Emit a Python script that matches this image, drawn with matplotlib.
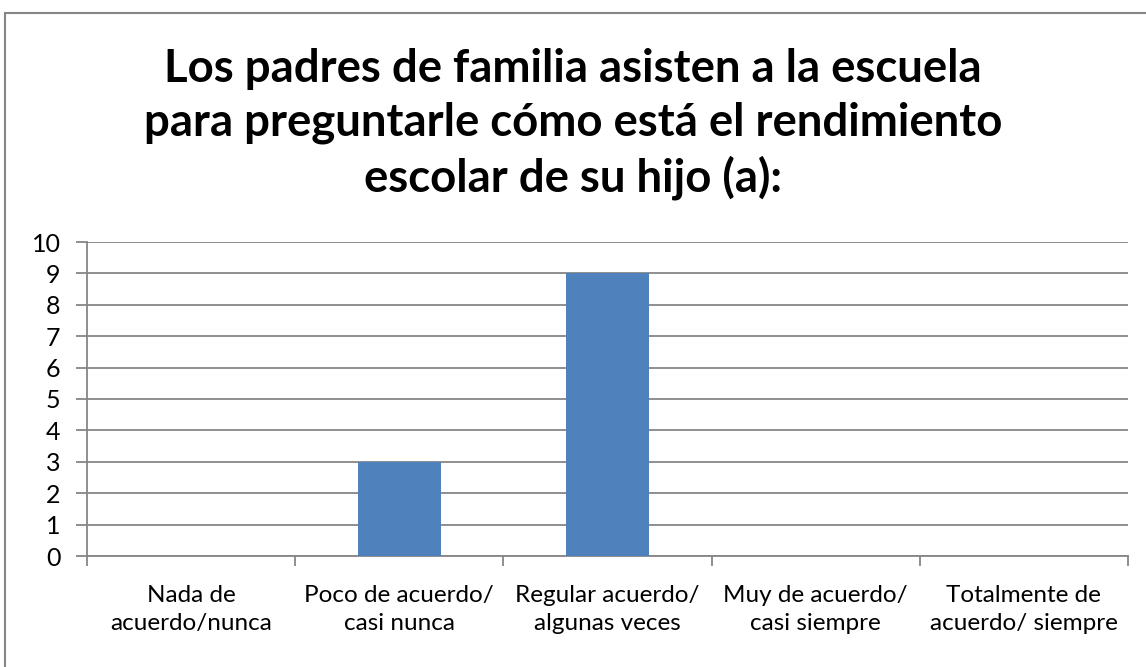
import matplotlib.pyplot as plt
from matplotlib.patches import Rectangle

plt.rcParams['font.family'] = ['Lato', 'DejaVu Sans']

# Datos
categorias = ['Nada de\nacuerdo/nunca', 'Poco de acuerdo/\ncasi nunca',
              'Regular acuerdo/\nalgunas veces', 'Muy de acuerdo/\ncasi siempre',
              'Totalmente de\nacuerdo/ siempre']
valores = [0, 3, 9, 0, 0]
titulo = ('Los padres de familia asisten a la escuela\n'
          'para preguntarle cómo está el rendimiento\n'
          'escolar de su hijo (a):')

gris = '#868686'

fig = plt.figure(figsize=(11.46, 6.67), dpi=100)
ax = fig.add_axes([87 / 1146, 1 - 556 / 667, (1128 - 87) / 1146, (556 - 242) / 667])

x = range(len(categorias))
ax.bar(x, valores, width=0.4, color='#4F81BD', zorder=3)

ax.set_xlim(-0.5, len(categorias) - 0.5)
ax.set_ylim(0, 10)
ax.set_yticks(range(0, 11))
ax.yaxis.grid(True, color=gris, linewidth=1.3, zorder=0)

# ticks del eje x en los limites de categoria, etiquetas centradas
ax.set_xticks([i - 0.5 for i in range(len(categorias) + 1)])
ax.set_xticklabels([])
ax.set_xticks(list(x), minor=True)
ax.set_xticklabels(categorias, minor=True, fontsize=17.5, linespacing=1.4)
ax.tick_params(axis='x', which='minor', length=0, pad=21)
ax.tick_params(axis='x', which='major', length=7, color=gris, width=1.3)
ax.tick_params(axis='y', length=8, color=gris, width=1.3, labelsize=18, pad=11)

for lado in ['top', 'right']:
    ax.spines[lado].set_visible(False)
for lado in ['left', 'bottom']:
    ax.spines[lado].set_color(gris)
    ax.spines[lado].set_linewidth(1.3)

fig.text(0.5, 1 - 124 / 667, titulo, ha='center', va='center', fontsize=32.8,
         fontweight='bold', linespacing=1.33)

# marco del grafico
fig.patches.append(Rectangle((5 / 1146, -0.1), 1.2, 1 - 13 / 667 + 0.1,
                             transform=fig.transFigure, fill=False,
                             edgecolor=gris, linewidth=1.5))

fig.savefig('out.png', dpi=100)
